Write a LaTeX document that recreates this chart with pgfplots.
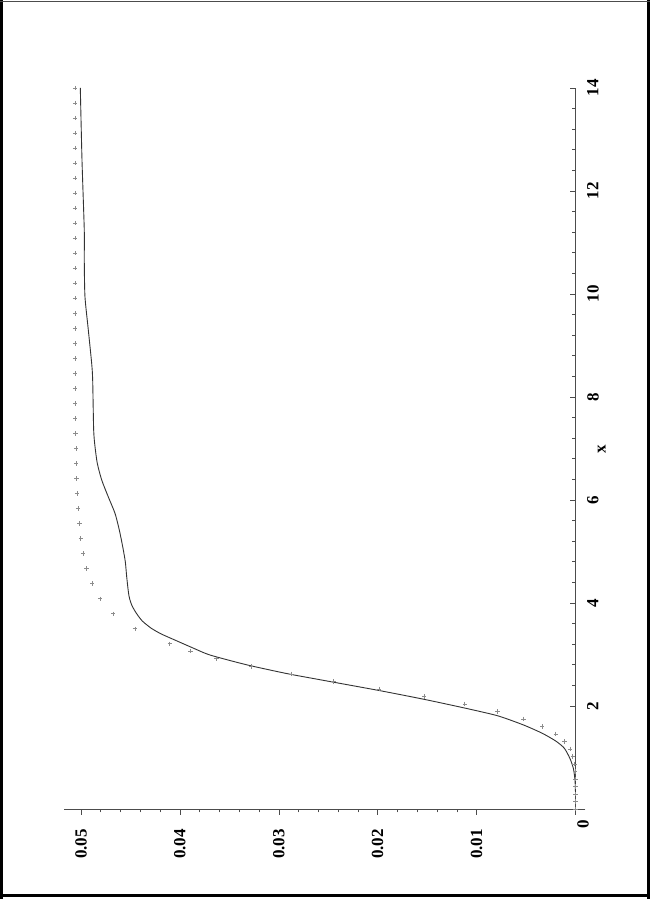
\documentclass[border=0pt]{standalone}
\usepackage{pgfplots}
\pgfplotsset{compat=1.18}
\usepackage{fontspec}
\setmainfont{Liberation Serif}
\pgfplotstableread{
xv yv
0.30 0
0.56 0.00005
0.79 0.00022
0.98 0.00056
1.18 0.00113
1.32 0.00200
1.47 0.00336
1.63 0.00524
1.81 0.00787
1.96 0.01120
2.13 0.01532
2.30 0.01984
2.51 0.02583
2.63 0.02920
2.80 0.03325
2.99 0.03696
3.12 0.03860
3.28 0.04050
3.40 0.04190
3.51 0.04290
3.65 0.04380
3.80 0.04440
3.95 0.04485
4.08 0.04508
4.20 0.04520
4.51 0.04538
4.80 0.04552
5.09 0.04578
5.42 0.04613
5.74 0.04656
6.06 0.04724
6.39 0.04791
6.71 0.04835
7.03 0.04858
7.36 0.04872
8.33 0.04882
8.65 0.04892
9.30 0.04926
9.95 0.04960
10.66 0.04967
11.24 0.04967
12.60 0.04990
14.00 0.05007
}\solidtable
\pgfplotstableread{
xv yv
14.000 0.05061
13.708 0.05061
13.417 0.05061
13.125 0.05061
12.833 0.05061
12.542 0.05061
12.250 0.05061
11.958 0.05061
11.667 0.05061
11.375 0.05061
11.083 0.05061
10.792 0.05061
10.500 0.05061
10.208 0.05061
9.917 0.05061
9.625 0.05061
9.333 0.05061
9.042 0.05061
8.750 0.05060
8.458 0.05060
8.167 0.05060
7.875 0.05060
7.583 0.05058
7.292 0.05057
7.000 0.05051
6.708 0.05048
6.417 0.05044
6.125 0.05040
5.833 0.05030
5.542 0.05017
5.250 0.05003
4.958 0.04978
4.667 0.04944
4.375 0.04886
4.083 0.04808
3.792 0.04674
3.500 0.04456
3.208 0.04103
3.0625 0.03891
2.9167 0.03632
2.7708 0.03281
2.6250 0.02877
2.4792 0.02449
2.3333 0.01984
2.1875 0.01532
2.0417 0.01120
1.8958 0.00787
1.7500 0.00524
1.6042 0.00336
1.4583 0.00200
1.3125 0.00113
1.1667 0.00056
1.0208 0.00028
0.8750 0.00012
0.7292 0.00005
0.5833 0.00002
0.4375 0.00001
0.2917 0
0.1458 0
0.0000 0
}\crosstable
\begin{document}
\begin{tikzpicture}[x=1pt,y=1pt]
\useasboundingbox (0,0) rectangle (650,899);
\fill[black] (0,0) rectangle (2.7,899);
\fill[black] (647,0) rectangle (650,899);
\fill[black] (0,2) rectangle (650,5);
\fill[black!70] (0,897) rectangle (650,898);
\begin{axis}[
  at={(64pt,84pt)}, anchor=south west,
  scale only axis, width=521.4pt, height=727pt,
  x dir=reverse,
  xmin=-0.001, xmax=0.05172,
  ymin=-0.1165, ymax=14,
  axis lines=middle,
  axis line style={-, black!70, line width=0.8pt},
  clip=false,
  scaled x ticks=false, scaled y ticks=false,
  xtick={0.01,0.02,0.03,0.04,0.05},
  xticklabels={0.01,0.02,0.03,0.04,0.05},
  ytick={2,4,6,8,10,12,14},
  yticklabels={2,4,6,8,10,12,14},
  minor x tick num=4, minor y tick num=4,
  xtick align=outside, ytick align=inside,
  major tick length=6pt, minor tick length=3.5pt,
  every tick/.style={black!70, line width=0.6pt},
  xticklabel style={yshift=-14pt, rotate=90, anchor=east, inner sep=0pt, font=\bfseries\fontsize{17}{17}\selectfont},
  yticklabel style={xshift=11.5pt, rotate=90, anchor=north, inner sep=0pt, font=\bfseries\fontsize{17}{17}\selectfont},
]
\addplot[only marks, mark=+, mark size=2.2pt, color=black!45, mark options={line width=0.6pt}] table[x=yv, y=xv] {\crosstable};
\addplot[black!80, line width=0.9pt, smooth, tension=0.4] table[x=yv, y=xv] {\solidtable};
\node[rotate=90, font=\bfseries\fontsize{17}{17}\selectfont, inner sep=0pt] at (axis cs:-0.00076,-0.29) {0};
\node[rotate=90, font=\bfseries\fontsize{17}{17}\selectfont, inner sep=0pt] at (axis cs:-0.00265,6.99) {x};
\end{axis}
\end{tikzpicture}
\end{document}
